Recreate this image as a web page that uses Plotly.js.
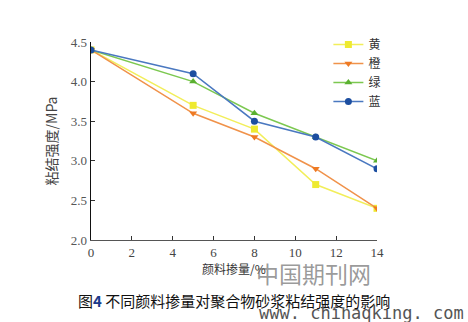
<!DOCTYPE html>
<html><head><meta charset="utf-8">
<script src="https://cdn.plot.ly/plotly-3.0.1.min.js"></script>
<style>html,body{margin:0;padding:0;background:#fff}#c{width:468px;height:322px}</style>
</head><body><div id="c"></div>
<script>
const dosage = [0, 5, 8, 11, 14];
const yellow = [4.4, 3.7, 3.4, 2.7, 2.4];
const orange = [4.4, 3.6, 3.3, 2.9, 2.4];
const green  = [4.4, 4.0, 3.6, 3.3, 3.0];
const blue   = [4.4, 4.1, 3.5, 3.3, 2.9];
const names = ['黄', '橙', '绿', '蓝'];
const xTicks = [0, 2, 4, 6, 8, 10, 12, 14];
const yTicks = [2.0, 2.5, 3.0, 3.5, 4.0, 4.5];

function tr(y, name, lc, mc, sym) {
  return {x: dosage, y: y, name: name, type: 'scatter', mode: 'lines+markers',
    line: {color: lc, width: 1.5}, marker: {color: mc, size: 7, symbol: sym}};
}
const data = [
  tr(yellow, names[0], '#f2ee5a', '#eeea30', 'square'),
  tr(orange, names[1], '#f0924a', '#ee7a24', 'triangle-down'),
  tr(green,  names[2], '#7cc850', '#5ab030', 'triangle-up'),
  tr(blue,   names[3], '#4a78c0', '#1c4ea0', 'circle')
];
const serif = 'Liberation Serif, DejaVu Serif, serif';
const layout = {
  width: 468, height: 322,
  margin: {l: 91, r: 91, t: 42, b: 82},
  paper_bgcolor: '#fff', plot_bgcolor: '#fff',
  showlegend: true,
  legend: {x: 0.83, y: 1.06, xanchor: 'left', yanchor: 'top', bgcolor: 'rgba(0,0,0,0)',
    font: {family: 'Noto Sans CJK SC', size: 12, color: '#333'}, tracegroupgap: 0, itemwidth: 30},
  xaxis: {range: [0, 14], tickvals: xTicks, ticktext: xTicks.map(String),
    showgrid: false, zeroline: false, showline: true, linecolor: '#555', linewidth: 1,
    ticks: 'inside', ticklen: 4, tickcolor: '#333',
    tickfont: {family: serif, size: 13, color: '#444'},
    title: {text: '颜料掺量/%', font: {family: 'Noto Sans CJK SC', size: 12, color: '#333'}, standoff: 6}},
  yaxis: {range: [2.0, 4.5], tickvals: yTicks, ticktext: yTicks.map(v => v.toFixed(1)),
    showgrid: false, zeroline: false, showline: true, linecolor: '#111', linewidth: 1.5,
    ticks: 'inside', ticklen: 4, tickcolor: '#333',
    tickfont: {family: serif, size: 13, color: '#555'},
    title: {text: '粘结强度/MPa', font: {family: 'Noto Sans CJK SC', size: 14, color: '#444'}, standoff: 10}},
  annotations: [
    {xref: 'paper', yref: 'paper', x: 0.57, y: -0.07, xanchor: 'left', yanchor: 'top', showarrow: false,
     text: '中国期刊网', font: {family: 'Noto Sans CJK SC', size: 23, color: 'rgba(110,110,110,0.7)'}},
    {xref: 'paper', yref: 'paper', x: 0.5, y: -0.24, xanchor: 'center', yanchor: 'top', showarrow: false,
     text: '图<b><span style="color:#1a3a8a">4</span></b> 不同颜料掺量对聚合物砂浆粘结强度的影响',
     font: {family: 'Noto Sans CJK SC', size: 15, color: '#111'}},
    {xref: 'paper', yref: 'paper', x: 1.31, y: -0.31, xanchor: 'right', yanchor: 'top', showarrow: false,
     text: 'www. chinaqking. com', font: {family: 'DejaVu Sans Mono', size: 17, color: '#555'}}
  ]
};
Plotly.newPlot('c', data, layout, {displayModeBar: false, staticPlot: true});
</script></body></html>
